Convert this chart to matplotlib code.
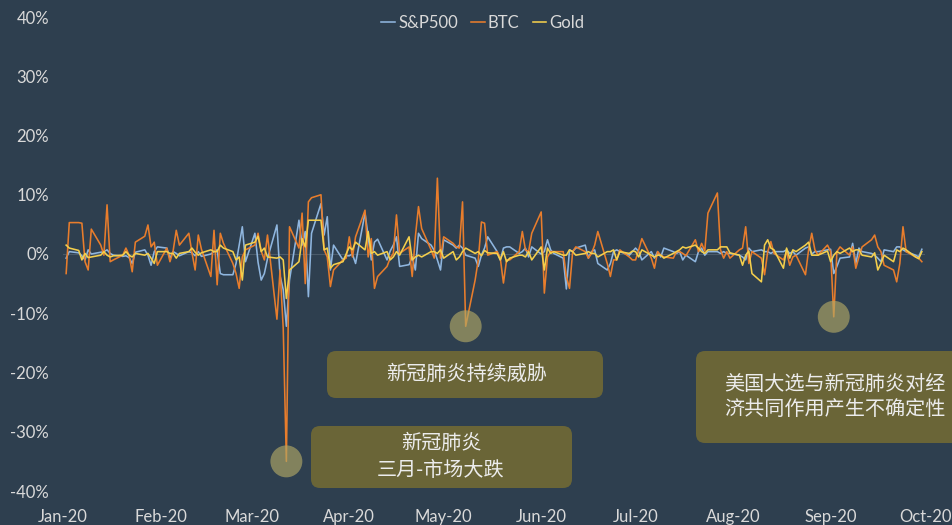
import pandas as pd
import matplotlib
matplotlib.use('Agg')
import matplotlib.pyplot as plt
import matplotlib.dates as mdates
from matplotlib.patches import FancyBboxPatch

# daily % change, business days from 2 Jan 2020
sp500 = [-0.7, 0.4, 0.2, -0.3, -1.0, 0.7, 0.0, 0.3, 0.4, 0.7, 0.1, -0.2, -0.4, -0.3, -0.6, -1.6,
         0.3, 0.7, -0.2, -1.9, 0.4, 1.2, 1.0, -0.7, 0.4, 0.1, -0.3, 0.4, 0.2, -0.3, 0.4, -0.4,
         0.0, 0.4, 0.7, -3.3, -3.5, -3.5, -1.6, 1.5, 4.6, -1.3, 3.5, -1.4, -4.4, -3.3, -0.8, 4.9,
         -3.7, -6.0, -12.2, -4.4, 5.7, 1.5, 3.8, -7.2, 3.5, 8.5, 3.2, 6.3, -2.7, 1.5, -1.0, -0.3,
         -0.3, 0.0, -1.6, 6.9, 2.9, -1.0, 2.0, 2.5, -1.0, 0.5, 1.5, 2.9, -2.1, -1.8, -0.5, -2.7,
         3.5, 2.6, 1.5, 0.6, -1.0, -2.7, 2.4, 1.5, 1.0, 1.5, 1.0, -0.2, -0.7, -2.1, -0.2, 1.0, 2.9,
         0.4, -1.0, 1.0, 1.2, 1.2, 0.1, 0.4, 1.0, -0.5, 1.2, 0.0, 0.4, 2.4, 0.7, 0.1, -0.7,
         -5.9, 0.7, 0.4, 1.0, 1.5, -0.7, 0.4, 0.7, -1.6, -2.7, -1.6, 0.4, 0.7, 0.4, -0.2, 0.4,
         1.0, 0.4, -1.0, 0.4, -0.7, 0.4, -0.5, 1.0, 0.4, 0.1, 0.4, -1.0, -0.2, -1.3, 0.4, 1.0,
         -0.2, 0.4, 0.4, 0.1, 0.4, 0.1, 0.1, -0.2, -0.5, -1.0, 1.0, 0.4, 0.7, 0.4, 0.4, 0.1, 0.4,
         0.4, 0.7, 0.1, 0.4, -0.2, 1.0, 1.2, 0.0, 0.4, 0.4, 0.7, 0.8, -3.3, -2.1, -0.7, -0.5,
         1.8, -1.6, 1.0, 0.4, 0.1, -0.2, -0.7, -1.3, 0.7, 0.4, 1.2, 1.2, 0.7, 0.4, -0.2, -0.5, 0.8]

btc = [-3.3, 5.3, 5.3, 5.2, -1.3, -2.7, 4.2, 1.5, -0.2, 8.3, -1.3, -1.0, -0.2, 1.0, -0.2, -3.0,
       2.0, 3.0, 4.9, 1.2, 2.0, -1.9, 1.0, -1.3, 0.5, 4.0, 1.5, 3.5, 0.2, -2.7, 3.2, 0.8,
       -3.8, 4.0, -5.2, 3.5, 1.8, -1.6, -3.3, -5.8, -0.5, 0.7, 1.5, 3.5, 0.5, -1.0, 3.2, -11.0,
       -2.7, -12.5, -35.0, 4.6, 1.0, 6.9, -5.0, 8.8, 9.5, 10.0, 0.7, -0.5, -5.5, -2.7, -1.0, -0.7,
       2.9, -0.5, 2.9, 7.4, -0.5, 2.6, -5.8, -3.8, -2.1, -0.7, 0.1, 6.6, 0.1, 1.2, -3.8, 2.9,
       8.0, 4.3, 0.7, -0.7, 12.8, -0.7, 2.9, 1.8, 1.2, 1.0, 8.8, -12.2, -4.4, -1.0, 5.4, 5.2, -0.2,
       0.4, -0.7, -4.9, -1.0, -1.0, 0.4, 3.8, 0.7, 0.4, 3.5, 7.1, -6.6, -0.5, 0.4, 0.4, 0.4,
       -3.8, -5.8, 0.4, 1.2, 0.4, -0.7, 0.1, 1.5, 3.8, -1.6, -3.8, -1.0, -1.0, 0.7, -0.5, -1.0,
       -1.0, 0.7, 2.6, -0.7, -2.4, 0.4, -0.2, -0.5, -0.7, 0.4, 0.4, 0.1, -0.3, 2.4, 0.4, 1.8,
       0.5, 6.9, 10.3, 0.7, -0.7, 0.4, -0.7, 0.7, 1.0, 4.6, -1.6, 0.4, -0.7, -3.5, 0.4, 2.1, 0.1,
       -1.0, 0.4, -1.9, -0.5, -0.2, -3.5, 0.7, 3.5, 0.7, -0.2, 1.5, 0.4, -10.6, 0.4, 1.2, -0.2,
       1.2, -2.4, -0.5, 1.2, 2.4, 3.2, 1.2, 0.4, -1.9, -2.7, -4.7, -1.6, 4.6, 0.4, -0.5, -0.7, -1.3]

gold = [1.5, 1.0, 0.6, -1.0, 0.1, -0.6, -0.5, -0.2, 0.4, -0.2, -0.5, -0.3, -0.2, 0.4, -0.2, -0.5,
        0.1, -0.2, 0.1, -0.7, -1.6, 0.4, 0.4, 0.1, 0.1, -0.7, 0.1, 0.4, 1.0, 0.3, -0.2, 0.2,
        0.7, 0.4, 0.4, 1.5, 1.0, 0.4, -1.0, -0.5, -4.4, 1.5, 2.0, 3.0, 0.4, 1.0, -0.5, -0.7,
        -0.5, -1.0, -7.5, -2.7, -1.3, 2.6, 1.2, 5.7, 5.7, 5.7, 0.7, 1.0, -2.4, -1.8, -1.3, 0.0,
        1.2, 0.7, 2.0, 0.7, 3.8, 0.1, 0.4, -0.2, 0.4, -1.0, -0.5, 0.4, -0.2, 2.9, -1.0, -0.5,
        -0.2, -0.5, 0.4, 0.4, 0.1, 0.7, -0.7, 0.4, -1.0, -0.5, 0.4, 1.0, 0.1, 0.4, -0.3, 0.6, 0.2,
        0.1, -1.0, 0.4, -1.3, -0.7, -0.2, -0.2, -0.5, 0.4, -1.0, 1.2, -2.7, 1.0, 0.1, 0.4, -0.2,
        -0.2, 0.7, 0.4, -0.2, 0.1, 0.4, 0.1, 0.1, -0.5, 0.4, 0.4, 0.7, -1.0, 0.4, 0.1, 0.5,
        0.4, -0.5, 0.7, -0.2, -0.5, -0.2, -0.2, -0.7, 0.1, 0.4, 0.7, 1.2, 1.0, 1.5, 1.0, 0.4,
        0.1, 0.7, 0.7, 1.2, 1.2, 1.2, 0.2, -0.2, -1.9, -0.2, 0.5, -3.3, -4.7, 1.5, 2.4, 1.0, 0.7,
        -2.4, 1.0, -0.7, 0.7, 0.4, 1.5, 2.0, -0.2, -0.2, -0.2, 0.5, -1.3, -0.2, 0.4, 0.1, 1.0,
        0.4, 0.7, 0.7, -0.2, -0.5, 0.2, -2.7, -1.6, -0.2, -1.3, 0.7, 0.4, 1.0, 0.7, -0.5, -0.8, 0.4]

series_names = ['S&P500', 'BTC', 'Gold']
colors = ['#8fb6df', '#e87d2c', '#f4cf4c']

# months whose biggest BTC drop gets a marker
note_months = ['2020-03', '2020-05', '2020-09']
note_texts = ['新冠肺炎\n三月-市场大跌', '新冠肺炎持续威胁', '美国大选与新冠肺炎对经\n济共同作用产生不确定性']

bg = '#2e3f4f'
txt = '#d9d9d9'
plt.rcParams['font.family'] = ['Lato', 'Noto Sans CJK SC', 'DejaVu Sans']

W, H = 952, 525
fig = plt.figure(figsize=(W / 100, H / 100), dpi=100, facecolor=bg)
ax = fig.add_axes([63 / W, 1 - 491 / H, (925 - 63) / W, (491 - 17) / H], facecolor=bg)

lines = []
for name, vals, c in zip(series_names, [sp500, btc, gold], colors):
    d = pd.bdate_range('2020-01-02', periods=len(vals))
    ln, = ax.plot(d, vals, color=c, lw=1.15, label=name, zorder=3)
    lines.append(ln)

ax.axhline(0, color='#4a5a69', lw=0.8, zorder=1)

# circles on the big BTC drops
btc_s = pd.Series(btc, index=pd.bdate_range('2020-01-02', periods=len(btc)))
for m in note_months:
    day = btc_s[m].idxmin()
    ax.scatter([day], [btc_s[day]], s=23 ** 2, color='#b0a766', alpha=0.65,
               edgecolors='none', zorder=4, clip_on=False)

ax.set_ylim(-40, 40)
ax.set_yticks(range(-40, 41, 10))
ax.yaxis.set_major_formatter(plt.FuncFormatter(lambda v, p: '{:.0f}%'.format(v)))
ax.set_xlim(pd.Timestamp('2020-01-01'), pd.Timestamp('2020-10-01'))
ax.xaxis.set_major_locator(mdates.MonthLocator())
ax.xaxis.set_major_formatter(mdates.DateFormatter('%b-%y'))
ax.tick_params(axis='both', length=0, colors=txt, labelsize=12)
ax.tick_params(axis='y', pad=10)
ax.tick_params(axis='x', pad=13)
for s in ax.spines.values():
    s.set_visible(False)

fig.legend(handles=lines, loc='center', bbox_to_anchor=(483 / W, 1 - 23 / H), ncol=3,
           frameon=False, fontsize=12, labelcolor=txt, handlelength=0.8,
           handletextpad=0.2, columnspacing=0.8)


# annotation boxes, pixel coords from top-left
def note_box(x0, y0, x1, y1, text, cx, ls):
    r = 9 / W
    box = FancyBboxPatch((x0 / W, 1 - y1 / H), (x1 - x0) / W, (y1 - y0) / H,
                         boxstyle='round,pad=0,rounding_size=%f' % r,
                         mutation_aspect=W / H, transform=fig.transFigure,
                         facecolor='#6a6537', edgecolor='none', zorder=5)
    fig.patches.append(box)
    fig.text(cx / W, 1 - (y0 + y1) / 2 / H, text, ha='center', va='center',
             color='#ececec', fontsize=14.5, family=['Noto Sans CJK SC'],
             linespacing=1.0 * ls, zorder=6)


note_box(311, 426, 572, 488, note_texts[0], 441, 1.35)
note_box(327, 351, 603, 398, note_texts[1], 467, 1.2)
note_box(696, 351, 980, 443, note_texts[2], 835, 1.3)

fig.savefig('out.png', dpi=100, facecolor=bg)
